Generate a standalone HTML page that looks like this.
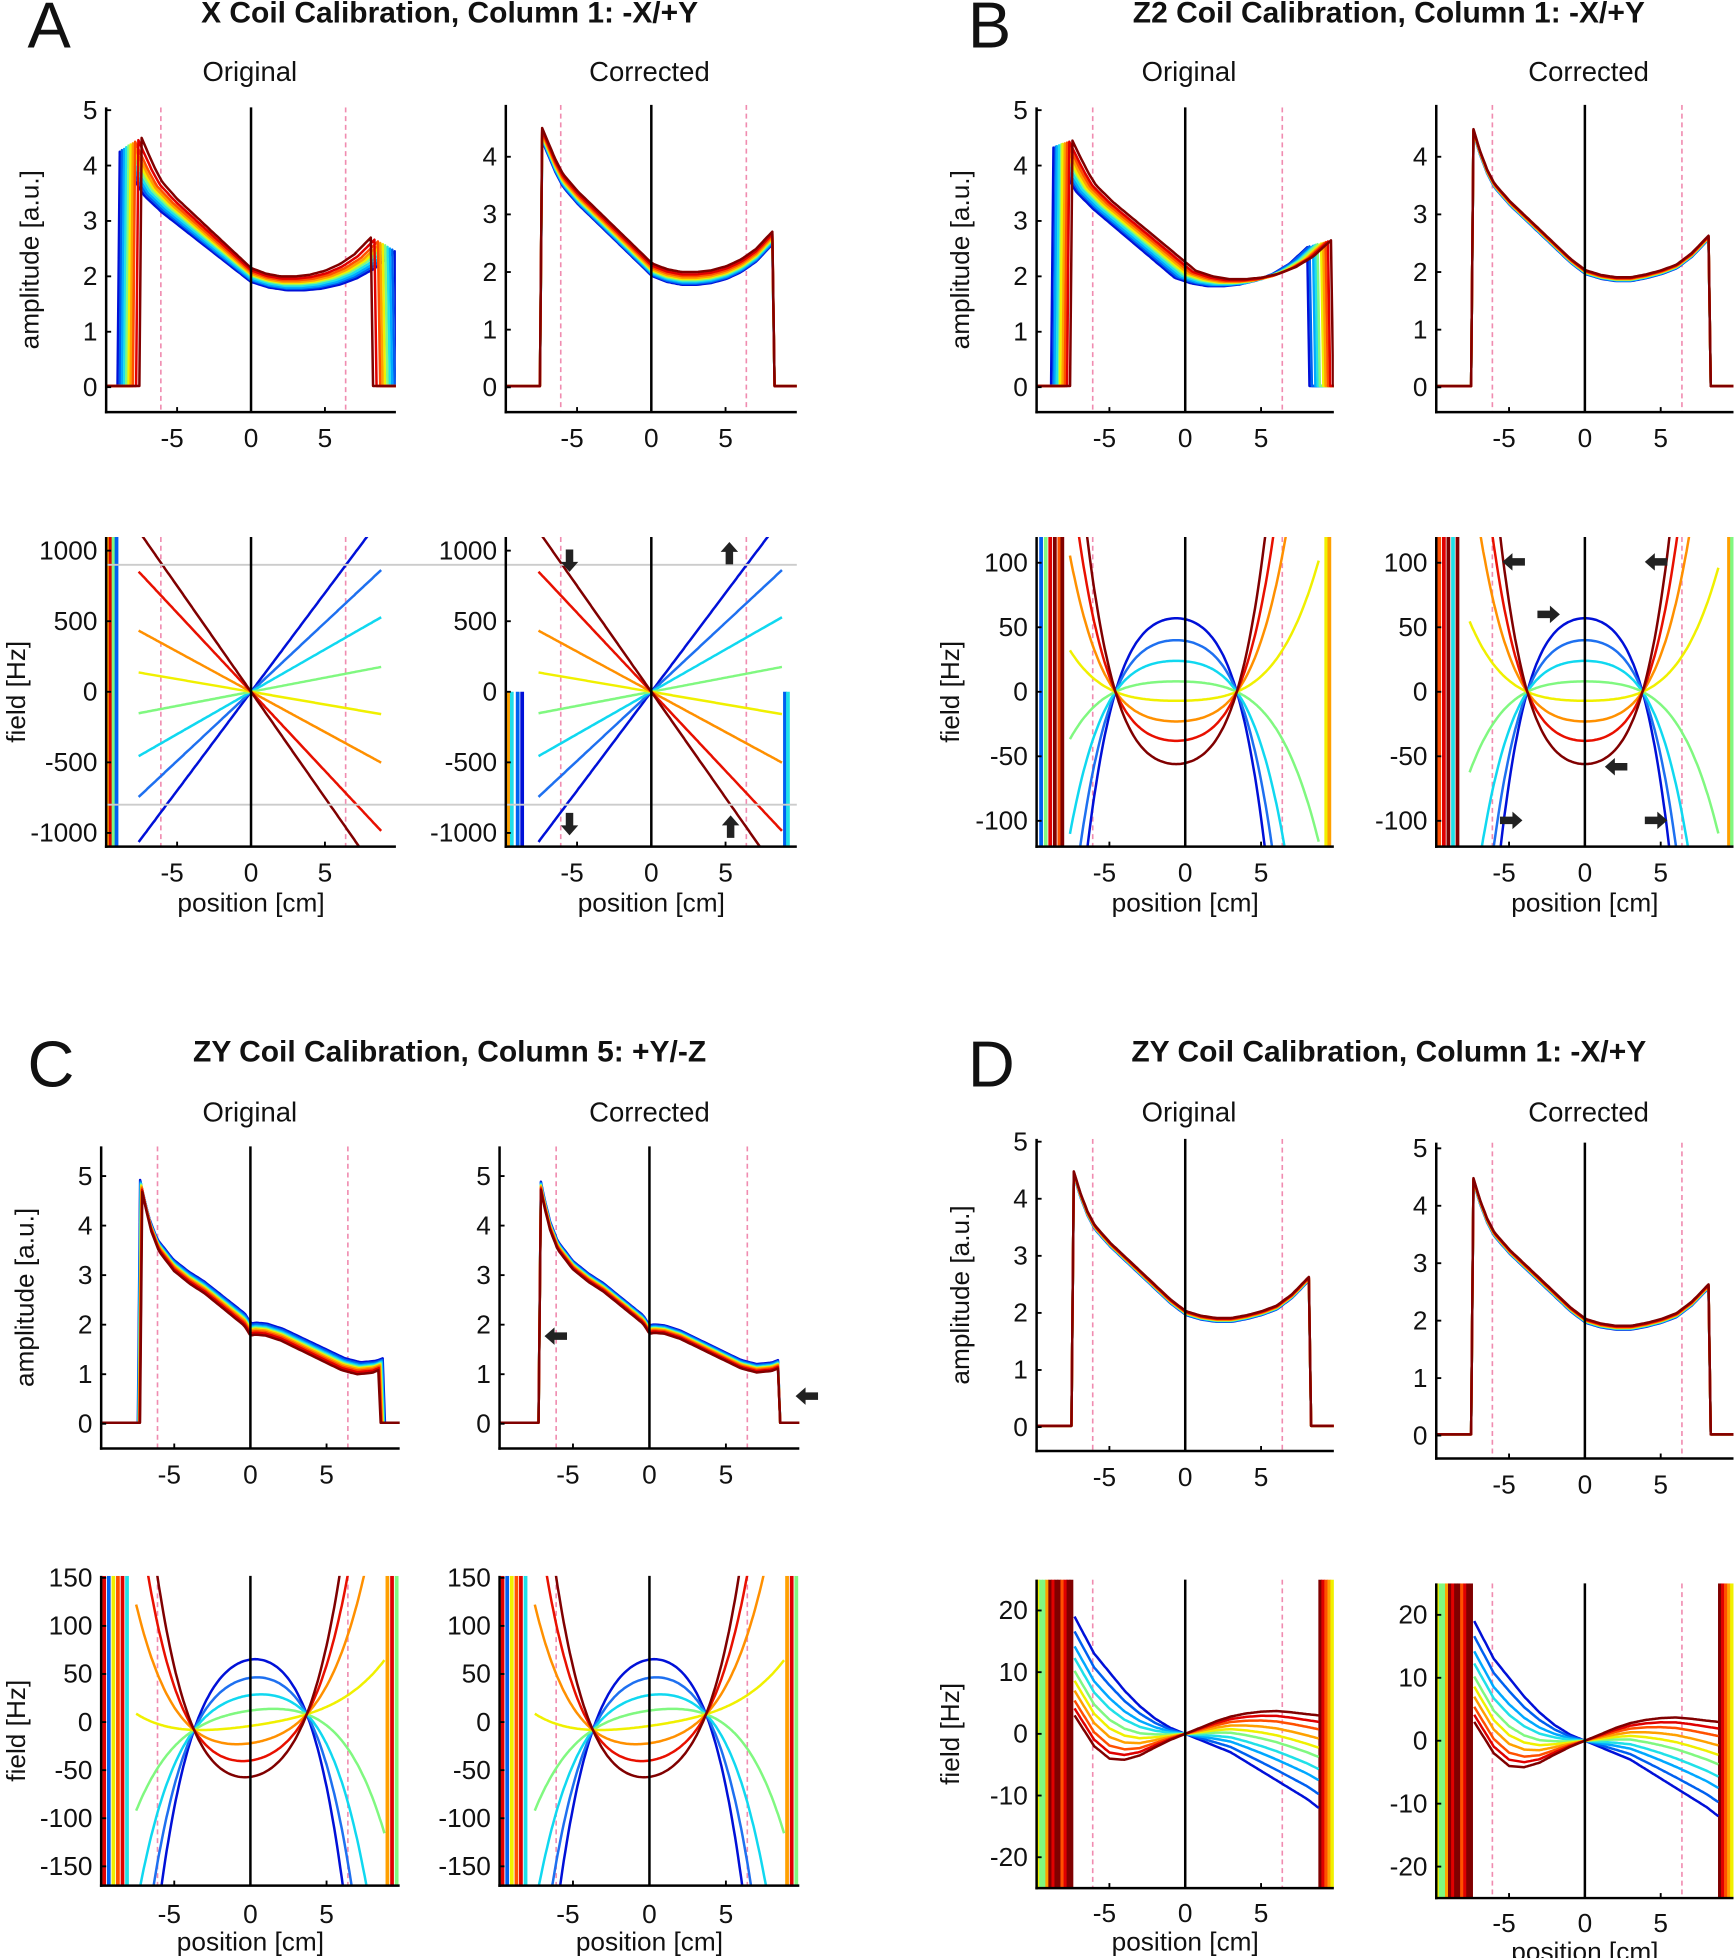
<!DOCTYPE html>
<html><head><meta charset="utf-8"><style>
html,body{margin:0;padding:0;background:#fff;width:1736px;height:1958px;overflow:hidden}
svg{display:block}
text{font-family:"Liberation Sans",sans-serif;fill:#111}
</style></head><body>
<svg id="fig" width="1736" height="1958" viewBox="0 0 1390 1568" preserveAspectRatio="none" xmlns="http://www.w3.org/2000/svg">
<g>
<text x="22" y="38" font-size="52">A</text>
<text x="775" y="38" font-size="52">B</text>
<text x="22" y="870" font-size="52">C</text>
<text x="775" y="870" font-size="52">D</text>
<text x="360" y="18" font-size="24" font-weight="bold" text-anchor="middle">X Coil Calibration, Column 1: -X/+Y</text>
<text x="1112" y="18" font-size="24" font-weight="bold" text-anchor="middle">Z2 Coil Calibration, Column 1: -X/+Y</text>
<text x="360" y="850" font-size="24" font-weight="bold" text-anchor="middle">ZY Coil Calibration, Column 5: +Y/-Z</text>
<text x="1112" y="850" font-size="24" font-weight="bold" text-anchor="middle">ZY Coil Calibration, Column 1: -X/+Y</text>
<text x="200" y="65" font-size="22" text-anchor="middle">Original</text>
<text x="520" y="65" font-size="22" text-anchor="middle">Corrected</text>
<text x="952" y="65" font-size="22" text-anchor="middle">Original</text>
<text x="1272" y="65" font-size="22" text-anchor="middle">Corrected</text>
<text x="200" y="898" font-size="22" text-anchor="middle">Original</text>
<text x="520" y="898" font-size="22" text-anchor="middle">Corrected</text>
<text x="952" y="898" font-size="22" text-anchor="middle">Original</text>
<text x="1272" y="898" font-size="22" text-anchor="middle">Corrected</text>
</g>
</svg>
<script>
// ---------- data ----------
const colors10 = ['#0010d8','#0060f0','#00a8ff','#20e0e8','#80f880','#f0f000','#ffa000','#ff5000','#e00000','#800000'];
const colors8 = ['#0010d8','#1e70f0','#10d8f0','#80f880','#f0f000','#ff9000','#e81000','#800000'];
const profX = [-7.4,-7.0,-6.5,-6,-5,-4,-3,-2,-1,0,1,2,3,4,5,6,7,8.1];
const profA = [4.4,4.15,3.85,3.6,3.3,3.05,2.8,2.55,2.3,2.05,1.95,1.9,1.9,1.93,2.0,2.12,2.3,2.6];
const profD = [4.45,4.1,3.75,3.5,3.2,2.95,2.7,2.45,2.2,2.0,1.92,1.88,1.88,1.93,2.0,2.1,2.3,2.6];
const profCX = [-7.1,-6.9,-6.5,-6,-5,-4,-3,-2,-1,-0.4,0,0.3,1,2,3,4,5,6,7,8.0,8.4];
const profC = [4.8,4.5,4.0,3.6,3.2,2.95,2.75,2.5,2.25,2.1,1.9,1.92,1.9,1.8,1.65,1.5,1.35,1.2,1.12,1.15,1.2];
const scaleAo = [1.2,1.18,1.16,1.14,1.12,1.1,1.08,1.06,1.03,1.0];
const offAo = [-0.15,-0.12,-0.1,-0.07,-0.04,-0.02,0.0,0.03,0.06,0.1];
const offAc = [-0.12,-0.1,-0.08,-0.06,-0.04,-0.02,0.0,0.03,0.06,0.1];
const scaleBo = [1.08,1.08,1.09,1.09,1.09,1.1,1.1,1.1,1.1,1.1];
const shiftBo = [-0.7,-0.55,-0.4,-0.25,-0.1,0.05,0.2,0.35,0.5,0.7];
const offC = [0.12,0.09,0.06,0.04,0.02,0.0,-0.02,-0.05,-0.08,-0.12];
const slopesA = [140,98,60,20,-18,-57,-112,-150];
const peaksB = [57,40,24,8,-7,-23,-38,-56];
const peaksC = [65,46,28,12,-4,-22,-40,-57];
const fdX = [-7.3,-6,-5,-4,-3,-2,-1,0,1,2,3,4,5,6,7,8,8.8];
const fdBlue = [19,13,10,7,4.5,2.5,1,0,-1,-2,-3,-4.5,-6,-7.5,-9,-10.5,-12];
const fdRed = [3,-2,-4,-4.2,-3.5,-2.2,-1,0,1,2,2.8,3.3,3.6,3.7,3.5,3.2,3];
const mixD = [0,0.15,0.3,0.42,0.55,0.65,0.75,0.85,0.93,1.0];

const svg = document.getElementById('fig');
const NS = 'http://www.w3.org/2000/svg';
let clipId = 0;
function el(tag, attrs, parent){const e=document.createElementNS(NS,tag);for(const k in attrs)e.setAttribute(k,attrs[k]);(parent||svg).appendChild(e);return e;}
function interp(xs, ys, x){if(x<=xs[0])return ys[0];for(let i=1;i<xs.length;i++){if(x<=xs[i]){const t=(x-xs[i-1])/(xs[i]-xs[i-1]);return ys[i-1]+t*(ys[i]-ys[i-1]);}}return ys[ys.length-1];}

function makeAxes(cfg){
  const g = el('g',{});
  
  
  const [xmin,xmax]=[-9.8,9.8];
  const sx=v=>cfg.x0+(v-xmin)/(xmax-xmin)*(cfg.x1-cfg.x0);
  const sy=v=>cfg.y1-(v-cfg.ymin)/(cfg.ymax-cfg.ymin)*(cfg.y1-cfg.y0);
  const id='c'+(clipId++);
  const cp=el('clipPath',{id:id},g);
  el('rect',{x:cfg.x0,y:cfg.y0,width:cfg.x1-cfg.x0,height:cfg.y1-cfg.y0},cp);
  const plot=el('g',{'clip-path':'url(#'+id+')'},g);
  
  
  if(cfg.gray){cfg.gray.forEach(v=>{const l=el('line',{x1:cfg.x0,x2:cfg.x1+(cfg.grayExt||0),y1:sy(v),y2:sy(v),stroke:'#ccc','stroke-width':1.5},g);
    
    });}
  [-6.1,6.4].forEach(v=>{const l=el('line',{x1:sx(v),x2:sx(v),y1:cfg.y0,y2:cfg.y1,stroke:'#f08cb0','stroke-width':1.3,'stroke-dasharray':'4,3'},plot);
    
    });
  return {g,plot,sx,sy,cfg};
}
function finishAxes(ax){
  const c=ax.cfg,g=ax.g;
  const zl=el('line',{x1:ax.sx(0),x2:ax.sx(0),y1:c.y0,y2:c.y1,stroke:'#000','stroke-width':2},g);
  
  
  const ya=el('line',{x1:c.x0,x2:c.x0,y1:c.y0,y2:c.y1+1,stroke:'#000','stroke-width':2},g);
  
  
  const xa=el('line',{x1:c.x0-1,x2:c.x1,y1:c.y1,y2:c.y1,stroke:'#000','stroke-width':2},g);
  
  
  [-5,0,5].forEach(v=>{
    el('line',{x1:ax.sx(v),x2:ax.sx(v),y1:c.y1,y2:c.y1-4,stroke:'#000','stroke-width':1.5},g);
    const t=el('text',{x:ax.sx(v)-(v<0?4:0),y:c.y1+(c.xtOff||28),'font-size':21,'text-anchor':'middle'},g);
    t.textContent=String(v);
    
    
  });
  c.yticks.forEach(v=>{
    el('line',{x1:c.x0,x2:c.x0+4,y1:ax.sy(v),y2:ax.sy(v),stroke:'#000','stroke-width':1.5},g);
    const t=el('text',{x:c.x0-7,y:ax.sy(v)+7,'font-size':21,'text-anchor':'end'},g);
    t.textContent=String(v);
    
    
  });
  if(c.ylabel){const cx=c.x0-(c.ylabelOff||54),cy=(c.y0+c.y1)/2;
    const t=el('text',{x:cx,y:cy,'font-size':21,'text-anchor':'middle',transform:'rotate(-90 '+cx+' '+cy+')'},g);
    t.textContent=c.ylabel;
    
    }
  if(c.xlabel){const t=el('text',{x:(c.x0+c.x1)/2,y:c.y1+(c.xlOff||52),'font-size':21,'text-anchor':'middle'},g);
    t.textContent='position [cm]';
    
    }
}
function poly(ax, pts, color, w, name){
  const p=el('polyline',{points:pts.map(p=>ax.sx(p[0]).toFixed(1)+','+ax.sy(p[1]).toFixed(1)).join(' '),fill:'none',stroke:color,'stroke-width':w||2,'stroke-linejoin':'round'},ax.plot);
  
  
}
function ampCurve(ax, xs, ys, scale, shift, off, color){
  const lo=xs[0]*scale+shift, hi=xs[xs.length-1]*scale+shift;
  const pts=[[-9.8,0.02],[lo-0.15,0.02]];
  for(let x=lo;x<=hi;x+=0.15){const u=(x-shift)/scale;pts.push([x,interp(xs,ys,u)+off]);}
  pts.push([hi,interp(xs,ys,xs[xs.length-1])+off],[hi+0.15,0.02],[9.8,0.02]);
  poly(ax,pts,color,2,'amplitude-profile');
}
function fieldCurve(ax, fn, color, lo, hi){
  const pts=[];for(let x=lo;x<=hi+1e-6;x+=0.1)pts.push([x,fn(x)]);
  poly(ax,pts,color,2,'field-map');
}
function junk(ax, xs, colors, ylo, yhi){
  xs.forEach((x,i)=>{poly(ax,[[x,ylo],[x,yhi]],colors[i%colors.length],3,'edge-artifact');});
}
function arrow(x,y,dir){
  const g=el('g',{transform:'translate('+x+','+y+') rotate('+({left:0,right:180,up:90,down:270}[dir])+')'});
  
  
  el('polygon',{points:'-9,0 -1,-7 -1,-3 9,-3 9,3 -1,3 -1,7',fill:'#222'},g);
}

// ===== A =====
{
 let ax=makeAxes({name:'a-original-amplitude',x0:85,x1:317,y0:86,y1:330,ymin:-0.45,ymax:5.05,yticks:[0,1,2,3,4,5],ylabel:'amplitude [a.u.]'});
 colors10.forEach((c,i)=>ampCurve(ax,profX,profA,scaleAo[i],0,offAo[i],c));
 finishAxes(ax);
 ax=makeAxes({name:'a-corrected-amplitude',x0:405,x1:638,y0:84,y1:330,ymin:-0.43,ymax:4.9,yticks:[0,1,2,3,4]});
 colors10.forEach((c,i)=>ampCurve(ax,profX,profA,1,0.05,offAc[i],c));
 finishAxes(ax);
 ax=makeAxes({name:'a-original-field',x0:85,x1:317,y0:430,y1:678,ymin:-1097,ymax:1097,yticks:[-1000,-500,0,500,1000],ylabel:'field [Hz]',ylabelOff:65,xlabel:true,gray:[900,-800],grayExt:88});
 junk(ax,[-9.7,-9.5,-9.3,-9.1],['#ffa000','#e00000','#80f880','#0060f0'],-1100,1100);
 slopesA.forEach((s,i)=>fieldCurve(ax,x=>s*x,colors8[i],-7.6,8.8));
 finishAxes(ax);
 ax=makeAxes({name:'a-corrected-field',x0:405,x1:638,y0:430,y1:678,ymin:-1097,ymax:1097,yticks:[-1000,-500,0,500,1000],xlabel:true,gray:[900,-800]});
 junk(ax,[-9.6,-9.4,-9.0,-8.7,9.0,9.2],['#ffa000','#20e0e8','#0060f0','#0010d8','#0060f0','#20e0e8'],-1100,0);
 slopesA.forEach((s,i)=>fieldCurve(ax,x=>s*x,colors8[i],-7.6,8.8));
 finishAxes(ax);
 arrow(456,449,'down');arrow(584,443,'up');arrow(456,660,'down');arrow(585,662,'up');
}
// ===== B =====
{
 let ax=makeAxes({name:'b-original-amplitude',x0:830,x1:1068,y0:86,y1:330,ymin:-0.45,ymax:5.05,yticks:[0,1,2,3,4,5],ylabel:'amplitude [a.u.]'});
 colors10.forEach((c,i)=>ampCurve(ax,profX,profA,scaleBo[i],shiftBo[i],offAo[i]*0.5,c));
 finishAxes(ax);
 ax=makeAxes({name:'b-corrected-amplitude',x0:1150,x1:1388,y0:84,y1:330,ymin:-0.43,ymax:4.9,yticks:[0,1,2,3,4]});
 colors10.forEach((c,i)=>ampCurve(ax,profX,profD,1,0.05,offAc[i]*0.3,c));
 finishAxes(ax);
 const quart=(pk,c,w)=>x=>{const u=((x-c)/w)**2;return pk*(1-u)*(1+0.4*u);};
 ax=makeAxes({name:'b-original-field',x0:830,x1:1068,y0:430,y1:678,ymin:-120,ymax:120,yticks:[-100,-50,0,50,100],ylabel:'field [Hz]',ylabelOff:62,xlabel:true});
 junk(ax,[-9.5,-9.2,-8.9,-8.6,-8.3,-8.1,9.3,9.5],['#0060f0','#80f880','#e00000','#800000','#ff5000','#800000','#f0f000','#ffa000'],-120,120);
 peaksB.forEach((p,i)=>fieldCurve(ax,quart(p,-0.6,4.0),colors8[i],-7.6,8.8));
 finishAxes(ax);
 ax=makeAxes({name:'b-corrected-field',x0:1150,x1:1388,y0:430,y1:678,ymin:-120,ymax:120,yticks:[-100,-50,0,50,100],xlabel:true});
 junk(ax,[-9.6,-9.3,-9.0,-8.7,-8.4,9.5,9.7],['#ff5000','#e00000','#800000','#20e0e8','#800000','#ffa000','#80f880'],-120,120);
 peaksB.forEach((p,i)=>fieldCurve(ax,quart(p,0,3.8),colors8[i],-7.6,8.8));
 finishAxes(ax);
 arrow(1212,450,'left');arrow(1326,450,'left');arrow(1240,492,'right');arrow(1294,614,'left');arrow(1210,657,'right');arrow(1326,657,'right');
}
// ===== C =====
{
 let ax=makeAxes({name:'c-original-amplitude',x0:81,x1:320,y0:918,y1:1160,ymin:-0.5,ymax:5.6,yticks:[0,1,2,3,4,5],ylabel:'amplitude [a.u.]'});
 colors10.forEach((c,i)=>ampCurve(ax,profCX,profC,1+0.01*(9-i)*0.3,0.02*(9-i)*0.3,offC[i],c));
 finishAxes(ax);
 ax=makeAxes({name:'c-corrected-amplitude',x0:400,x1:640,y0:918,y1:1160,ymin:-0.5,ymax:5.6,yticks:[0,1,2,3,4,5]});
 colors10.forEach((c,i)=>ampCurve(ax,profCX,profC,1,0,offC[i]*0.7,c));
 finishAxes(ax);
 arrow(445,1070,'left');arrow(646,1118,'left');
 const quartC=(pk)=>x=>{const u=(x/3.7)**2;return pk*(1-u)*(1+0.25*u)+2.2*x;};
 ['c-original-field','c-corrected-field'].forEach((nm,k)=>{
  const X=k?[400,640]:[81,320];
  ax=makeAxes({name:nm,x0:X[0],x1:X[1],y0:1262,y1:1510,ymin:-170,ymax:152,yticks:[-150,-100,-50,0,50,100,150],ylabel:k?null:'field [Hz]',ylabelOff:61,xlabel:true,xtOff:30,xlOff:52});
  junk(ax,[-9.6,-9.3,-9.0,-8.7,-8.4,-8.1,9.0,9.3,9.6],['#e00000','#0060f0','#f0f000','#ff5000','#e00000','#20e0e8','#ffa000','#e00000','#80f880'],-170,152);
  peaksC.forEach((p,i)=>fieldCurve(ax,quartC(p),colors8[i],-7.5,8.8));
  finishAxes(ax);
 });
}
// ===== D =====
{
 let ax=makeAxes({name:'d-original-amplitude',x0:830,x1:1068,y0:912,y1:1162,ymin:-0.42,ymax:5.05,yticks:[0,1,2,3,4,5],ylabel:'amplitude [a.u.]'});
 colors10.forEach((c,i)=>ampCurve(ax,profX,profD,1,0.05,offAc[i]*0.3,c));
 finishAxes(ax);
 ax=makeAxes({name:'d-corrected-amplitude',x0:1150,x1:1388,y0:915,y1:1168,ymin:-0.4,ymax:5.1,yticks:[0,1,2,3,4,5]});
 colors10.forEach((c,i)=>ampCurve(ax,profX,profD,1,0.05,offAc[i]*0.3,c));
 finishAxes(ax);
 [['d-original-field',830,1068,1265,1512],['d-corrected-field',1150,1388,1268,1520]].forEach((d,k)=>{
  ax=makeAxes({name:d[0],x0:d[1],x1:d[2],y0:d[3],y1:d[4],ymin:-25,ymax:25,yticks:[-20,-10,0,10,20],ylabel:k?null:'field [Hz]',ylabelOff:62,xlabel:true,xtOff:27,xlOff:50});
  junk(ax,[-9.7,-9.5,-9.3,-9.1,-8.9,-8.7,-8.5,-8.3,-8.1,-7.9,-7.7,-7.5,8.9,9.1,9.3,9.5,9.7],['#f0f000','#80f880','#80f880','#ffa000','#800000','#e00000','#800000','#800000','#ff5000','#e00000','#800000','#800000','#800000','#e00000','#ff5000','#ffa000','#f0f000'],-25,25);
  mixD.forEach((t,i)=>fieldCurve(ax,x=>(1-t)*interp(fdX,fdBlue,x)+t*interp(fdX,fdRed,x),colors10[i],-7.3,8.8));
  finishAxes(ax);
 });
}
</script>
</body></html>
